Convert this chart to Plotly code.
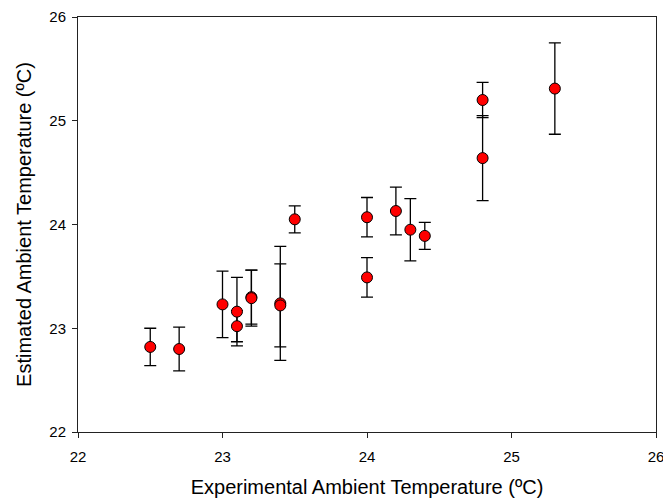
import plotly.graph_objects as go

# Experimental vs. estimated ambient temperature (°C) with error bars
experimental = [22.5, 22.7, 23.0, 23.1, 23.1, 23.2, 23.2, 23.4, 23.4, 23.5,
                24.0, 24.0, 24.2, 24.3, 24.4, 24.8, 24.8, 25.3]
estimated = [22.82, 22.80, 23.23, 23.16, 23.02, 23.30, 23.29, 23.24, 23.22, 24.05,
             24.07, 23.49, 24.13, 23.95, 23.89, 25.20, 24.64, 25.31]
error = [0.18, 0.21, 0.32, 0.33, 0.15, 0.26, 0.27, 0.55, 0.40, 0.13,
         0.19, 0.19, 0.23, 0.30, 0.13, 0.17, 0.41, 0.44]

tick_vals = [22, 23, 24, 25, 26]
FONT = "Liberation Sans, Arial, sans-serif"

fig = go.Figure(
    go.Scatter(
        x=experimental,
        y=estimated,
        mode="markers",
        marker=dict(size=11, color="#ff0000", line=dict(color="black", width=1)),
        error_y=dict(type="data", array=error, visible=True,
                     color="black", thickness=1.3, width=6),
        showlegend=False,
    )
)

axis_common = dict(
    showgrid=False,
    zeroline=False,
    showline=True,
    linecolor="#222222",
    linewidth=1,
    mirror=True,
    ticks="outside",
    ticklen=5,
    tickcolor="#222222",
    tickvals=tick_vals,
    automargin=False,
    ticklabeloverflow="allow",
    tickfont=dict(family=FONT, size=15, color="black"),
)

fig.update_xaxes(range=[22, 26], ticklabelstandoff=6,
                 title=dict(text="Experimental Ambient Temperature (ºC)",
                            font=dict(family=FONT, size=20, color="black"),
                            standoff=15), **axis_common)
fig.update_yaxes(range=[22, 26], ticklabelstandoff=3,
                 title=dict(text="Estimated Ambient Temperature (ºC)",
                            font=dict(family=FONT, size=20, color="black"),
                            standoff=12), **axis_common)

fig.update_layout(
    width=663,
    height=500,
    margin=dict(l=78, r=7, t=17, b=68),
    plot_bgcolor="white",
    paper_bgcolor="white",
)

fig.write_html("out.html")
